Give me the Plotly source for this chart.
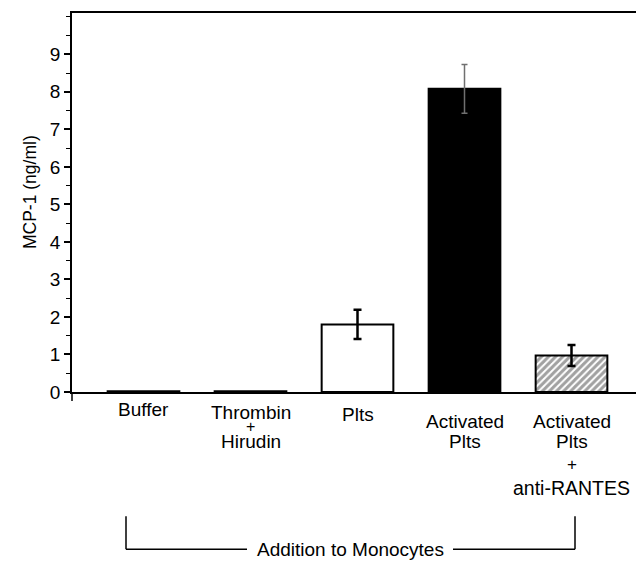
import plotly.graph_objects as go

# ---- data ----
categories = ["Buffer", "Thrombin + Hirudin", "Plts", "Activated Plts",
              "Activated Plts + anti-RANTES"]
mcp1 = [0.02, 0.02, 1.80, 8.08, 0.97]          # MCP-1 (ng/ml)
sem = [0.0, 0.0, 0.39, 0.65, 0.28]              # error bar half-lengths
y_tick_values = [0, 1, 2, 3, 4, 5, 6, 7, 8, 9]

# ---- styling ----
fill_colors = ["white", "white", "white", "black", "white"]
patterns = ["", "", "", "", "/"]
err_colors = ["black", "black", "black", "#707070", "black"]
err_thick = [2.5, 2.5, 2.5, 1.5, 2.5]
err_cap = [4, 4, 4, 3, 4]
label_lines = [["Buffer"], ["Thrombin", "+", "Hirudin"], ["Plts"],
               ["Activated", "Plts"], ["Activated", "Plts", "+", "anti-RANTES"]]
label_px = [[410], [412.5, 426.5, 441.5], [415], [421.5, 442],
            [421.5, 442, 465, 488.5]]
label_sizes = [[19], [19, 16, 19], [19], [19, 19], [19, 19, 17, 19.5]]

FONT = "Liberation Sans, Arial, Helvetica, sans-serif"
OFF = 8                      # page body margin offset of the plot div
W, H = 644, 561              # figure size
# desired plot-area edges in page pixels
P_LEFT, P_RIGHT, P_TOP, P_BOTTOM = 72, 642, 11, 392
ML = P_LEFT - OFF
MR = W - (P_RIGHT - OFF)
MT = P_TOP - OFF
MB = H - (P_BOTTOM - OFF)
PH = P_BOTTOM - P_TOP
PW = P_RIGHT - P_LEFT
X0_PX, X_STEP = 143.5, 107.0


def py(px):
    """page pixel y -> paper y"""
    return (P_BOTTOM - px) / PH


def px_(x):
    """page pixel x -> paper x"""
    return (x - P_LEFT) / PW


def dx(x):
    """page pixel x -> category-axis position"""
    return (x - X0_PX) / X_STEP


fig = go.Figure()
fig.add_trace(go.Bar(
    x=categories, y=mcp1, width=0.67,
    marker=dict(color=fill_colors, line=dict(color="black", width=2),
                pattern=dict(shape=patterns, fgcolor="black", size=5,
                             solidity=0.6)),
    showlegend=False, hoverinfo="skip"))

for i, c in enumerate(categories):
    if sem[i] > 0:
        fig.add_trace(go.Scatter(
            x=[c], y=[mcp1[i]], mode="markers",
            marker=dict(size=1, opacity=0),
            error_y=dict(type="data", array=[sem[i]], color=err_colors[i],
                         thickness=err_thick[i], width=err_cap[i]),
            showlegend=False, hoverinfo="skip"))

annotations = []
for i, lines in enumerate(label_lines):
    for txt, ypx, fs in zip(lines, label_px[i], label_sizes[i]):
        annotations.append(dict(
            x=i, y=py(ypx), xref="x", yref="paper", text=txt,
            showarrow=False, xanchor="center", yanchor="middle",
            font=dict(size=fs, color="black", family=FONT)))

annotations.append(dict(
    x=px_(30), y=py(191), xref="paper", yref="paper",
    text="MCP-1 (ng/ml)", textangle=-90, showarrow=False,
    xanchor="center", yanchor="middle",
    font=dict(size=17.5, color="black", family=FONT)))

annotations.append(dict(
    x=dx(350), y=py(550), xref="x", yref="paper",
    text="Addition to Monocytes", showarrow=False,
    xanchor="center", yanchor="middle",
    font=dict(size=19, color="black", family=FONT)))

line = dict(color="black", width=1.5)
shapes = [
    # bracket
    dict(type="line", xref="x", yref="paper", x0=dx(126), x1=dx(126),
         y0=py(517), y1=py(550), line=line),
    dict(type="line", xref="x", yref="paper", x0=dx(126), x1=dx(247),
         y0=py(550), y1=py(550), line=line),
    dict(type="line", xref="x", yref="paper", x0=dx(453), x1=dx(575),
         y0=py(550), y1=py(550), line=line),
    dict(type="line", xref="x", yref="paper", x0=dx(575), x1=dx(575),
         y0=py(517), y1=py(550), line=line),
    # small axis extensions below zero
    dict(type="line", xref="paper", yref="paper", x0=0, x1=0,
         y0=0, y1=py(401), line=line),
    dict(type="line", xref="paper", yref="paper", x0=1, x1=1,
         y0=0, y1=py(403), line=line),
]

fig.update_layout(
    width=W, height=H,
    margin=dict(l=ML, r=MR, t=MT, b=MB, pad=0),
    paper_bgcolor="white", plot_bgcolor="white",
    font=dict(family=FONT, color="black"),
    showlegend=False,
    annotations=annotations, shapes=shapes,
    xaxis=dict(range=[dx(P_LEFT), dx(P_RIGHT)], showticklabels=False,
               ticks="", showline=True, mirror=True, linecolor="black",
               linewidth=1.5, showgrid=False, zeroline=False),
    yaxis=dict(range=[0, 10.1], tickvals=y_tick_values, ticks="outside",
               ticklen=6, tickwidth=1.5, tickcolor="black",
               showline=True, mirror=True, linecolor="black", linewidth=1.5,
               showgrid=False, zeroline=False,
               tickfont=dict(size=19, color="black", family=FONT),
               minor=dict(dtick=0.5, tick0=0, ticks="outside", ticklen=4,
                          tickwidth=1, tickcolor="black")),
)

fig.write_html("out.html")
